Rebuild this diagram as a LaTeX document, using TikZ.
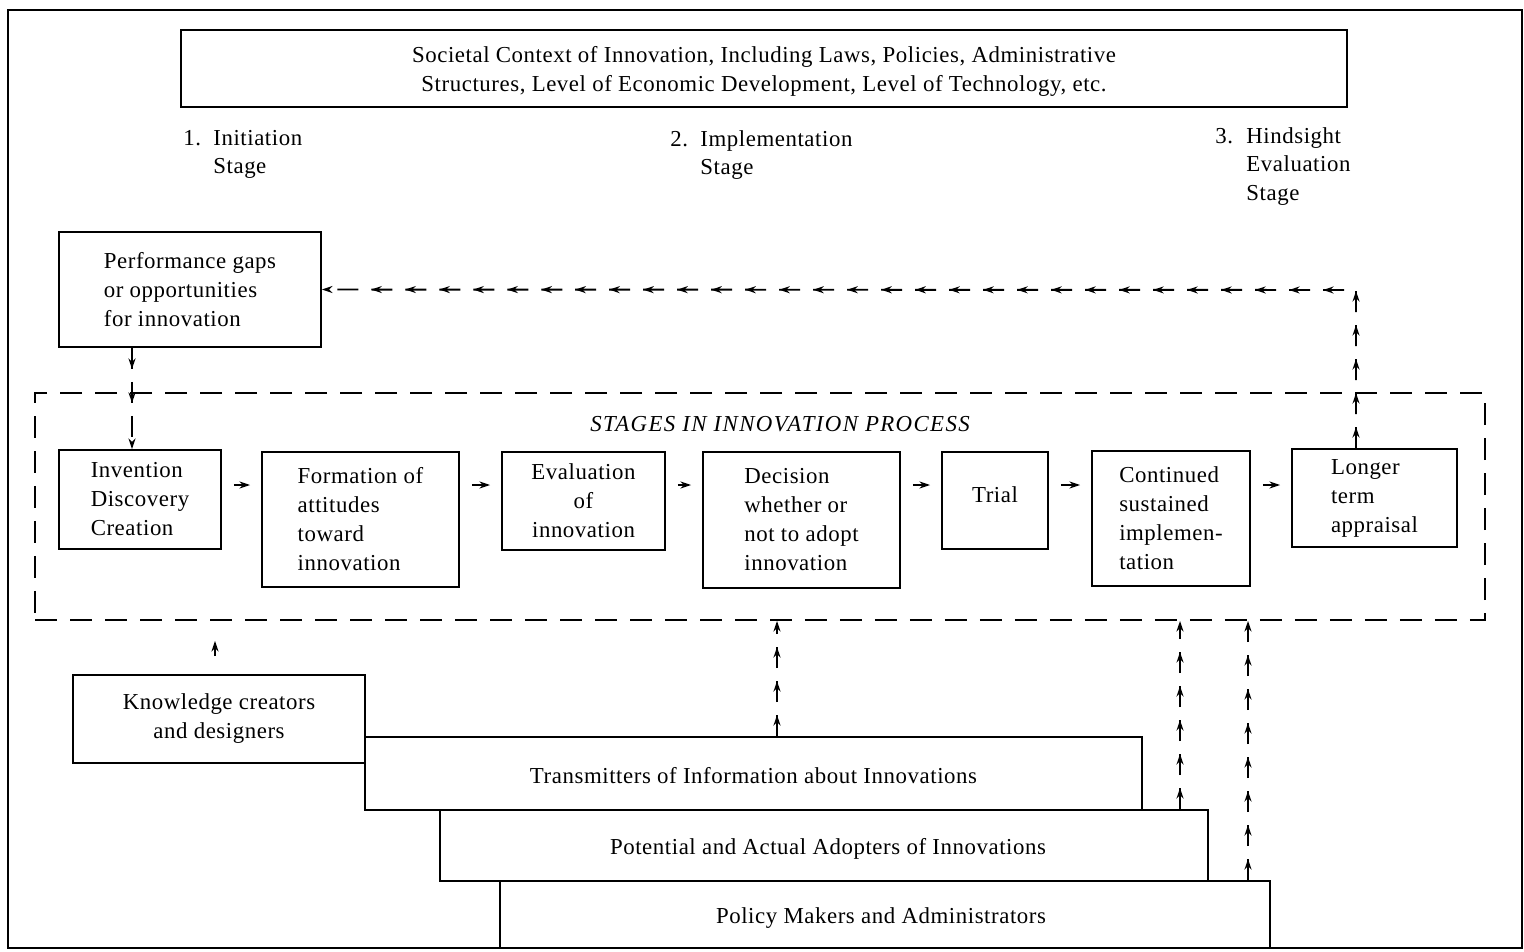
\documentclass[tikz,border=0pt]{standalone}
\usepackage{fontspec}
\setmainfont[LetterSpace=2.5]{Liberation Serif}
\newfontfamily\headfont[LetterSpace=6]{Liberation Serif}
\usetikzlibrary{arrows.meta,decorations.markings,calc}
\newcommand\shiftv[2]{\raisebox{#1}[\height][\depth]{#2}}
\begin{document}
\begin{tikzpicture}[x=0.02cm,y=-0.02cm,
  every node/.style={font=\fontsize{13}{16.5}\selectfont},
  box/.style={draw,line width=1.1pt,inner sep=0pt},
  lab/.style={inner sep=0pt,anchor=base west},
  ar/.tip={Stealth[length=6pt,width=4pt]},
  sarr/.style={line width=1.1pt,-ar,shorten <=0.24cm,shorten >=0.22cm},
  darr/.style={line width=1.1pt,dash pattern=on 0.42cm off 0.26cm,-ar,
    postaction={decorate},
    decoration={markings,mark=between positions 0.42cm and -0.4cm step 0.68cm with {\arrow{ar}}}}
  ]
\useasboundingbox (0,0) rectangle (1524,951);
\draw[line width=1.2pt] (8,10) rectangle (1522,948);

% context box
\node[box,minimum width=23.32cm,minimum height=1.54cm] (ctx) at (764,68.5)
  {\shiftv{-0.06cm}{\begin{tabular}{@{}c@{}}Societal Context of Innovation, Including Laws, Policies, Administrative\\
   Structures, Level of Economic Development, Level of Technology, etc.\end{tabular}}};

% stage labels
\node[lab] (n1) at (183,145) {1.};
\node[lab] (s1) at (213,145) {\begin{tabular}[t]{@{}l@{}}Initiation\\Stage\end{tabular}};
\node[lab] (n2) at (670,146) {2.};
\node[lab] (s2) at (700,146) {\begin{tabular}[t]{@{}l@{}}Implementation\\Stage\end{tabular}};
\node[lab] (n3) at (1215,143) {3.};
\node[lab] (s3) at (1246,143) {\begin{tabular}[t]{@{}l@{}}Hindsight\\Evaluation\\Stage\end{tabular}};

% performance gaps
\node[box,minimum width=5.24cm,minimum height=2.30cm,align=left] (perf) at (190,289.5)
  {Performance gaps\\or opportunities\\for innovation};

% stages frame
\node[draw,line width=1.1pt,dash pattern=on 0.44cm off 0.26cm,minimum width=29cm,minimum height=4.54cm,inner sep=0pt] (stages) at (760,506.5) {};
\node[inner sep=0pt,font=\fontsize{13}{15}\headfont\itshape] (head) at (780,424) {STAGES IN INNOVATION PROCESS};

\node[box,minimum width=3.24cm,minimum height=1.98cm,align=left] (inv) at (140,499.5)
  {Invention\\Discovery\\Creation};
\node[box,minimum width=3.94cm,minimum height=2.70cm,align=left] (form) at (360.5,519.5)
  {Formation of\\attitudes\\toward\\innovation};
\node[box,minimum width=3.26cm,minimum height=1.96cm,align=center] (eval) at (583.5,501)
  {Evaluation\\of\\innovation};
\node[box,minimum width=3.94cm,minimum height=2.72cm,align=left] (dec) at (801.5,520)
  {Decision\\whether or\\not to adopt\\innovation};
\node[box,minimum width=2.12cm,minimum height=1.94cm] (trial) at (995,500.5) {\shiftv{0.12cm}{Trial}};
\node[box,minimum width=3.16cm,minimum height=2.70cm,align=left] (cont) at (1171,518.5)
  {Continued\\sustained\\implemen-\\tation};
\node[box,minimum width=3.30cm,minimum height=1.96cm,align=left] (long) at (1374.5,498)
  {Longer\\term\\appraisal};

\coordinate (ay) at (0,485);
\draw[sarr] (inv.east |- ay) -- (form.west |- ay);
\draw[sarr] (form.east |- ay) -- (eval.west |- ay);
\draw[sarr] (eval.east |- ay) -- (dec.west |- ay);
\draw[sarr] (dec.east |- ay) -- (trial.west |- ay);
\draw[sarr] (trial.east |- ay) -- (cont.west |- ay);
\draw[sarr] (cont.east |- ay) -- (long.west |- ay);

% bottom actors
\node[box,minimum width=15.40cm,minimum height=1.34cm] (pol) at (885,914.5) {\hspace*{-0.16cm}\shiftv{-0.08cm}{Policy Makers and Administrators}};
\node[box,minimum width=15.36cm,minimum height=1.42cm] (pot) at (824,845.5) {\hspace*{0.16cm}\shiftv{-0.06cm}{Potential and Actual Adopters of Innovations}};
\node[box,minimum width=15.54cm,minimum height=1.46cm] (trans) at (753.5,773.5) {\shiftv{-0.04cm}{Transmitters of Information about Innovations}};
\node[box,minimum width=5.84cm,minimum height=1.76cm,align=center] (know) at (219,719) {Knowledge creators\\and designers};

% dashed connectors
\coordinate (fb) at (1356,290);
\draw[darr] (fb |- long.north) -- (fb) -- (perf.east);
\coordinate (pd) at (132,0);
\draw[darr] (perf.south -| pd) -- (inv.north -| pd);
\coordinate (u1) at (777,0);
\coordinate (u2) at (1180,0);
\coordinate (u3) at (1248,0);
\draw[darr] (trans.north -| u1) -- (stages.south -| u1);
\draw[darr] (pot.north -| u2) -- (stages.south -| u2);
\draw[darr] (pol.north -| u3) -- (stages.south -| u3);
\coordinate (k1) at (215,0);
\draw[sarr,shorten <=0.36cm,shorten >=0.40cm] (know.north -| k1) -- (stages.south -| k1);
\end{tikzpicture}
\end{document}
